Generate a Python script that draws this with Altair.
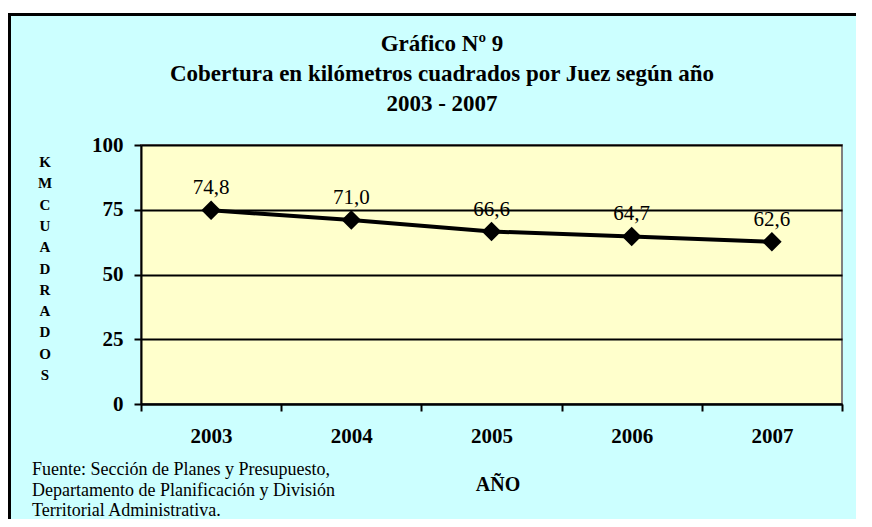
import altair as alt
import pandas as pd

years = ["2003", "2004", "2005", "2006", "2007"]
values = [74.8, 71.0, 66.6, 64.7, 62.6]
value_labels = ["74,8", "71,0", "66,6", "64,7", "62,6"]
title_lines = ["Gráfico Nº 9", "Cobertura en kilómetros cuadrados por Juez según año", "2003 - 2007"]
y_title_letters = ["K", "M", "", "C", "U", "A", "D", "R", "A", "D", "O", "S"]
x_title = "AÑO"
source_lines = ["Fuente: Sección de Planes y Presupuesto,",
                "Departamento  de Planificación  y División",
                "Territorial Administrativa."]
y_ticks = [0, 25, 50, 75, 100]

FONT = "Liberation Serif"
W, H = 701, 259

df = pd.DataFrame({"year": years, "value": values, "label": value_labels})

base = alt.Chart(df).encode(
    x=alt.X("year:N", sort=years, title=None,
            scale=alt.Scale(paddingInner=0, paddingOuter=0),
            axis=alt.Axis(labelAngle=0, labelFont=FONT, labelFontSize=21, labelFontWeight="bold",
                          labelColor="black", domainColor="black", domainWidth=2,
                          tickColor="black", tickWidth=2, tickSize=7, tickBand="extent",
                          labelPadding=14, grid=False)),
    y=alt.Y("value:Q", title=None,
            scale=alt.Scale(domain=[0, 100], nice=False),
            axis=alt.Axis(values=y_ticks, labelFont=FONT, labelFontSize=21, labelFontWeight="bold",
                          labelColor="black", domainColor="black", domainWidth=2,
                          tickColor="black", tickWidth=2, tickSize=7, labelPadding=11,
                          grid=True, gridColor="black", gridWidth=2)),
)

line = base.mark_line(color="black", strokeWidth=4)
points = base.mark_point(shape="diamond", filled=True, color="black", size=380, opacity=1)
labels = base.mark_text(font=FONT, fontSize=21, color="black", baseline="alphabetic", dy=-16).encode(
    text="label:N")

one = pd.DataFrame({"k": [0]})
deco = alt.Chart(one)

white_strip = deco.mark_rect(color="white").encode(
    x=alt.value(-140), x2=alt.value(W + 40), y=alt.value(-140), y2=alt.value(-132))
left_border = deco.mark_rule(color="black", strokeWidth=3).encode(
    x=alt.value(-131.5), y=alt.value(-132), y2=alt.value(H + 130))
top_border = deco.mark_rule(color="black", strokeWidth=3).encode(
    y=alt.value(-130.5), x=alt.value(-133), x2=alt.value(W + 40))
title = deco.mark_text(text=title_lines, font=FONT, fontSize=23, fontWeight="bold",
                       align="center", baseline="middle", lineHeight=30, color="black").encode(
    x=alt.value(301), y=alt.value(-101))
ytitle = deco.mark_text(text=y_title_letters, font=FONT, fontSize=15, fontWeight="bold",
                        align="center", baseline="middle", lineHeight=21.3, color="black").encode(
    x=alt.value(-96), y=alt.value(17))
xtitle = deco.mark_text(text=x_title, font=FONT, fontSize=20, fontWeight="bold",
                        align="center", baseline="middle", color="black").encode(
    x=alt.value(357), y=alt.value(340))
source = deco.mark_text(text=source_lines, font=FONT, fontSize=18,
                        align="left", baseline="middle", lineHeight=20.5, color="black").encode(
    x=alt.value(-109), y=alt.value(325))

chart = alt.layer(
    line, points, labels, white_strip, left_border, top_border, title, ytitle, xtitle, source
).properties(
    width=W, height=H,
    padding={"left": 133, "top": 137, "right": 14, "bottom": 115},
    autosize=alt.AutoSizeParams(type="none"),
    background="#CCFFFF",
).configure_view(
    fill="#FFFFCC", stroke="#808080", strokeWidth=2
)

chart.save("out.html", embed_options={"renderer": "svg", "actions": False})
